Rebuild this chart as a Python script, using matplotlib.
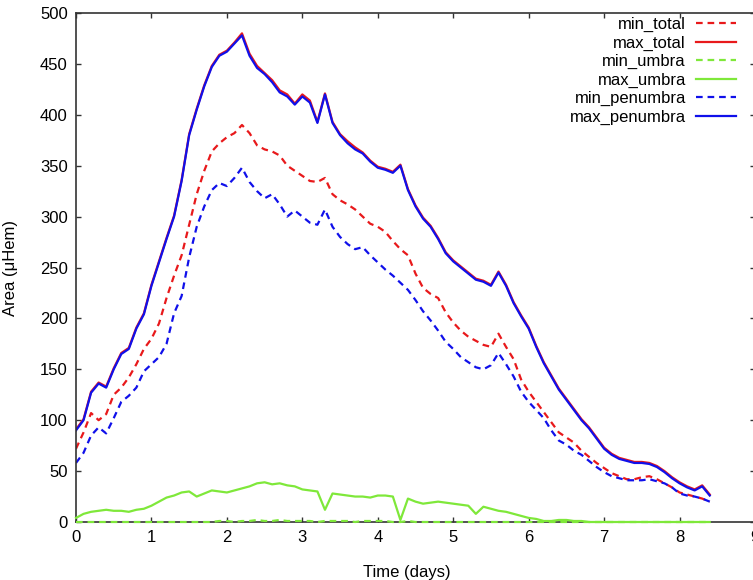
"""
Sunspot area evolution: min/max total, umbra and penumbra areas vs time.
"""

import matplotlib
matplotlib.use('Agg')

import matplotlib.pyplot as plt

DAYS = [round(0.1 * i, 1) for i in range(85)]

MIN_TOTAL = [
    72, 88, 107, 100, 106, 125, 132, 142, 155, 170,
    180, 195, 220, 242, 262, 292, 322, 345, 364, 372,
    378, 382, 390, 382, 370, 366, 364, 360, 350, 345,
    340, 335, 334, 338, 322, 316, 312, 307, 300, 293,
    290, 285, 276, 268, 262, 244, 230, 224, 220, 206,
    196, 188, 182, 178, 174, 172, 185, 172, 160, 140,
    128, 118, 108, 98, 88, 83, 78, 70, 64, 58,
    53, 48, 45, 42, 42, 44, 45, 42, 38, 34,
    29, 27, 25, 23, 20,
]

MAX_TOTAL = [
    91, 101, 128, 137, 133, 151, 166, 171, 191, 205,
    233, 256, 279, 301, 336, 381, 406, 429, 448, 459,
    463, 471, 480, 460, 448, 441, 434, 424, 420, 411,
    420, 414, 393, 421, 393, 381, 374, 368, 363, 355,
    349, 347, 344, 351, 327, 311, 299, 291, 279, 265,
    257, 251, 245, 239, 237, 233, 246, 233, 216, 203,
    191, 173, 157, 144, 131, 121, 111, 101, 93, 83,
    73, 67, 63, 61, 59, 59, 58, 55, 50, 44,
    39, 35, 32, 36, 27,
]

MIN_UMBRA = [
    0, 0, 0, 0, 0, 0, 0, 0, 0, 0,
    0, 0, 0, 0, 0, 0, 0, 0, 0, 1,
    1, 0, 1, 1, 2, 1, 1, 2, 1, 1,
    1, 1, 0, 1, 1, 1, 1, 0, 1, 1,
    1, 1, 0, 0, 1, 0, 0, 0, 0, 0,
    0, 0, 0, 0, 0, 0, 0, 0, 0, 0,
    0, 0, 0, 0, 0, 0, 0, 0, 0, 0,
    0, 0, 0, 0, 0, 0, 0, 0, 0, 0,
    0, 0, 0, 0, 0,
]

MAX_UMBRA = [
    4, 8, 10, 11, 12, 11, 11, 10, 12, 13,
    16, 20, 24, 26, 29, 30, 25, 28, 31, 30,
    29, 31, 33, 35, 38, 39, 37, 38, 36, 35,
    32, 31, 30, 12, 28, 27, 26, 25, 25, 24,
    26, 26, 25, 2, 23, 20, 18, 19, 20, 19,
    18, 17, 16, 8, 15, 13, 11, 10, 8, 6,
    4, 3, 1, 1, 2, 2, 1, 1, 0, 0,
    0, 0, 0, 0, 0, 0, 0, 0, 0, 0,
    0, 0, 0, 0, 0,
]

MIN_PENUMBRA = [
    58, 68, 85, 93, 87, 102, 118, 124, 132, 148,
    155, 162, 175, 205, 222, 260, 290, 310, 326, 333,
    330, 338, 348, 334, 325, 318, 322, 312, 300, 306,
    300, 294, 292, 307, 290, 280, 273, 268, 270, 262,
    255, 248, 242, 235, 228, 218, 207, 198, 188, 177,
    170, 162, 157, 152, 150, 154, 166, 155, 143, 128,
    118, 110, 102, 90, 80, 76, 70, 66, 60, 54,
    49, 45, 43, 41, 41, 41, 42, 40, 38, 34,
    28, 26, 25, 23, 20,
]

MAX_PENUMBRA = [
    90, 100, 127, 136, 132, 150, 165, 170, 190, 204,
    232, 255, 278, 300, 335, 380, 405, 428, 447, 458,
    462, 470, 478, 458, 446, 440, 432, 422, 418, 410,
    418, 412, 392, 420, 392, 380, 372, 366, 362, 354,
    348, 346, 343, 350, 326, 310, 298, 290, 278, 264,
    256, 250, 244, 238, 236, 232, 245, 232, 215, 202,
    190, 172, 156, 143, 130, 120, 110, 100, 92, 82,
    72, 66, 62, 60, 58, 58, 57, 54, 49, 43,
    38, 34, 31, 35, 26,
]

RED = '#e8191b'
GREEN = '#7fe83a'
BLUE = '#1010ea'

plt.rcParams['font.family'] = ['Liberation Sans', 'DejaVu Sans']

fig = plt.figure(figsize=(7.53, 5.80), dpi=100)
ax = fig.add_axes([76 / 753, 58 / 580, 679 / 753, 509 / 580])

dash = (3, 2.2)
lw = 1.6
ax.plot(DAYS, MIN_TOTAL, color=RED, lw=lw, dashes=dash, label='min_total')
ax.plot(DAYS, MAX_TOTAL, color=RED, lw=lw, label='max_total')
# umbra lines sit on the x axis for long stretches, draw them over the spine
ax.plot(DAYS, MIN_UMBRA, color=GREEN, lw=lw, dashes=dash, label='min_umbra',
        clip_on=False, zorder=3)
ax.plot(DAYS, MAX_UMBRA, color=GREEN, lw=lw, label='max_umbra',
        clip_on=False, zorder=3)
ax.plot(DAYS, MIN_PENUMBRA, color=BLUE, lw=lw, dashes=dash, label='min_penumbra')
ax.plot(DAYS, MAX_PENUMBRA, color=BLUE, lw=lw, label='max_penumbra')

ax.set_xlim(0, 9)
ax.set_ylim(0, 500)
ax.set_xticks(range(0, 10))
ax.set_yticks(range(0, 501, 50))
ax.tick_params(direction='in', length=3.5, width=1, labelsize=12,
               top=True, right=True, pad=6, colors='#333333', labelcolor='black')
for sp in ax.spines.values():
    sp.set_linewidth(1.2)
    sp.set_color('#333333')

ax.set_xlabel('Time (days)', fontsize=12)
ax.set_ylabel('Area (\u03bcHem)', fontsize=12)
ax.xaxis.set_label_coords(0.487, -0.085)
ax.yaxis.set_label_coords(-0.085, 0.5)

ax.legend(loc='upper right', bbox_to_anchor=(736 / 753, 563 / 580),
          bbox_transform=fig.transFigure, frameon=False, markerfirst=False,
          fontsize=12, handlelength=2.4, handletextpad=0.6,
          labelspacing=0.2, borderpad=0, borderaxespad=0)

fig.savefig('out.png', dpi=100)
plt.close(fig)
